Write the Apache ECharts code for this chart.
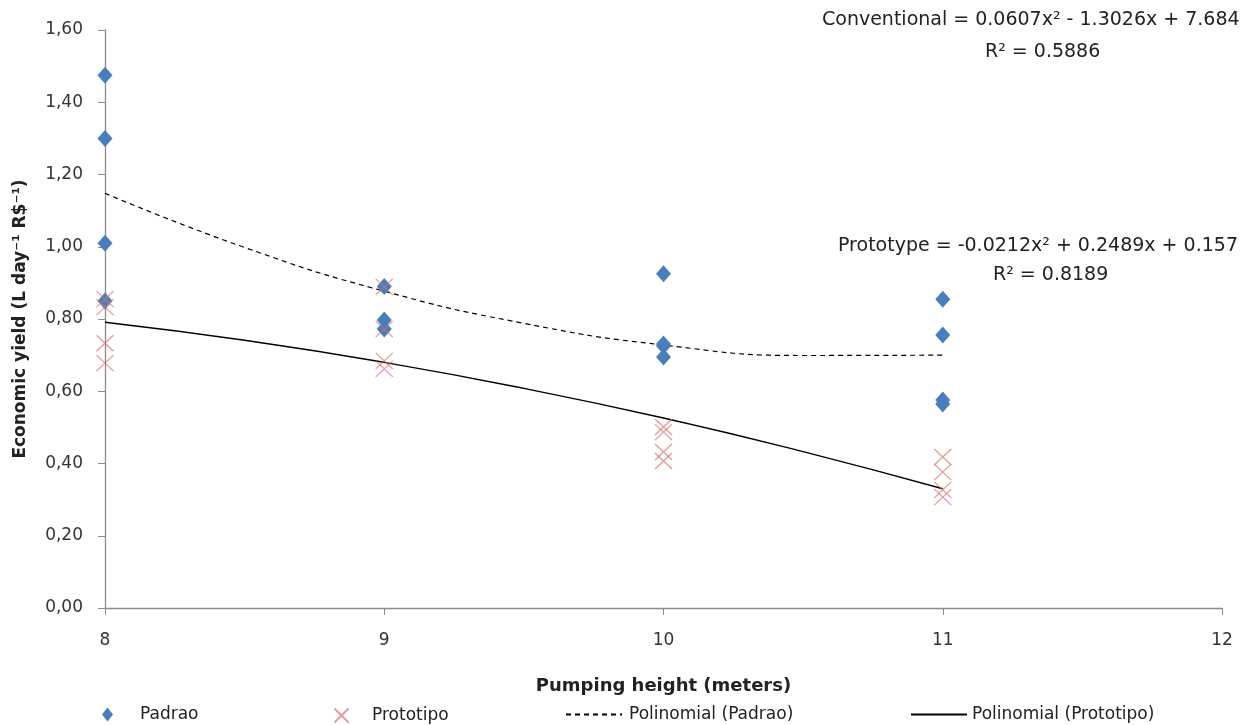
<!DOCTYPE html>
<html><head><meta charset="utf-8">
<script src="https://cdn.jsdelivr.net/npm/echarts@6/dist/echarts.min.js"></script>
<style>html,body{margin:0;padding:0;background:#fff}#c{width:1245px;height:725px}</style>
</head><body><div id="c"></div>
<script>
// Data
const padraoX = [8, 8, 8, 8, 9, 9, 9, 10, 10, 10, 10, 11, 11, 11, 11];
const padraoY = [1.475, 1.30, 1.01, 0.85, 0.89, 0.797, 0.772, 0.925, 0.731, 0.725, 0.695, 0.855, 0.756, 0.576, 0.565];
const protoX = [8, 8, 8, 8, 9, 9, 9, 9, 10, 10, 10, 10, 11, 11, 11, 11];
const protoY = [0.855, 0.833, 0.733, 0.678, 0.889, 0.772, 0.684, 0.662, 0.501, 0.487, 0.432, 0.407, 0.418, 0.376, 0.327, 0.307];
const trendX = [8, 8.5, 9, 9.5, 10, 10.5, 11];
const trendPadrao = [1.148, 0.998, 0.877, 0.788, 0.728, 0.699, 0.700];
const trendProto = [0.791, 0.741, 0.680, 0.608, 0.526, 0.433, 0.330];
const xTicks = [8, 9, 10, 11, 12];
const yTicks = [0, 0.2, 0.4, 0.6, 0.8, 1.0, 1.2, 1.4, 1.6];
const names = ['Padrao', 'Prototipo', 'Polinomial (Padrao)', 'Polinomial (Prototipo)'];
const eqConv = 'Conventional = 0.0607x² - 1.3026x + 7.684';
const r2Conv = 'R² = 0.5886';
const eqProto = 'Prototype = -0.0212x² + 0.2489x + 0.157';
const r2Proto = 'R² = 0.8189';

const FONT = '"DejaVu Sans", "Liberation Sans", Arial, sans-serif';
const pair = (xs, ys) => xs.map((x, i) => [x, ys[i]]);
const crossPath = 'path://M0,0 L10,10 M10,0 L0,10';
const legendText = (padLeft) => ({fontFamily: FONT, fontSize: 17, color: '#222', padding: [0, 0, 0, padLeft]});

const chart = echarts.init(document.getElementById('c'));
chart.setOption({
  animation: false,
  backgroundColor: '#fff',
  grid: {left: 105, right: 23, top: 30, bottom: 117, outerBoundsMode: 'none', containLabel: false},
  xAxis: {
    type: 'value', min: xTicks[0], max: xTicks[xTicks.length - 1], interval: 1,
    name: 'Pumping height (meters)', nameLocation: 'middle', nameGap: 69,
    nameTextStyle: {fontFamily: FONT, fontSize: 18, fontWeight: 'bold', color: '#222'},
    axisLine: {lineStyle: {color: '#8c8c8c', width: 1.3}},
    axisTick: {show: true, length: 7, lineStyle: {color: '#8c8c8c'}},
    axisLabel: {fontFamily: FONT, fontSize: 17, color: '#333', margin: 24},
    splitLine: {show: false}
  },
  yAxis: {
    type: 'value', min: yTicks[0], max: yTicks[yTicks.length - 1], interval: 0.2,
    name: 'Economic yield (L day⁻¹ R$⁻¹)', nameLocation: 'middle', nameGap: 76,
    nameTextStyle: {fontFamily: FONT, fontSize: 17, fontWeight: 'bold', color: '#222'},
    axisLine: {show: true, lineStyle: {color: '#8c8c8c', width: 1.3}},
    axisTick: {show: true, length: 7, lineStyle: {color: '#8c8c8c'}},
    axisLabel: {fontFamily: FONT, fontSize: 17, color: '#333', margin: 22,
      formatter: v => v.toFixed(2).replace('.', ',')},
    splitLine: {show: false}
  },
  legend: [
    {top: 701, left: 97, data: [names[0]], itemWidth: 11, itemHeight: 14, textStyle: legendText(22)},
    {top: 701, left: 327, data: [names[1]], itemWidth: 15, itemHeight: 14, textStyle: legendText(18)},
    {top: 701, left: 560, data: [names[2]], itemWidth: 56, itemHeight: 14, textStyle: legendText(2),
      itemStyle: {color: 'transparent', borderColor: 'transparent'}},
    {top: 701, left: 905, data: [names[3]], itemWidth: 56, itemHeight: 14, textStyle: legendText(0),
      itemStyle: {color: 'transparent', borderColor: 'transparent'}}
  ],
  series: [
    {name: names[2], type: 'line', data: pair(trendX, trendPadrao), smooth: true, symbol: 'none',
      lineStyle: {color: '#000', width: 1.2, type: [5, 4]}, itemStyle: {color: '#000'}, z: 3},
    {name: names[3], type: 'line', data: pair(trendX, trendProto), smooth: true, symbol: 'none',
      lineStyle: {color: '#000', width: 1.4, type: 'solid'}, itemStyle: {color: '#000'}, z: 3},
    {name: names[0], type: 'scatter', data: pair(padraoX, padraoY), symbol: 'diamond', symbolSize: [15, 17],
      itemStyle: {color: '#4a7ebb', opacity: 1}, z: 4},
    {name: names[1], type: 'scatter', data: pair(protoX, protoY), symbol: crossPath, symbolSize: [17, 16],
      itemStyle: {color: 'none', borderColor: 'rgba(214,112,108,0.85)', borderWidth: 1.3}, z: 5}
  ],
  graphic: [
    {type: 'text', left: 822, top: 11, style: {text: eqConv, font: '19px ' + FONT, fill: '#222'}},
    {type: 'text', left: 985, top: 43, style: {text: r2Conv, font: '19px ' + FONT, fill: '#222'}},
    {type: 'text', left: 838, top: 237, style: {text: eqProto, font: '19px ' + FONT, fill: '#222'}},
    {type: 'text', left: 993, top: 266, style: {text: r2Proto, font: '19px ' + FONT, fill: '#222'}}
  ]
});
</script></body></html>
